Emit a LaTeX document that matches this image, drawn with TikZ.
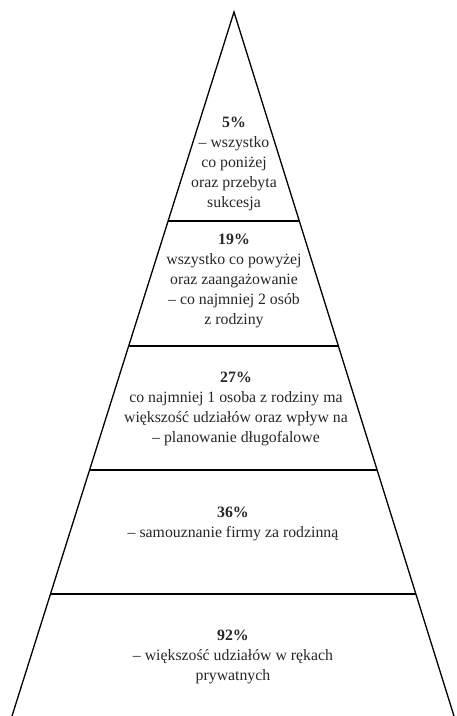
\documentclass[tikz,border=0pt]{standalone}
\usepackage{fontspec}
\setmainfont{Liberation Serif}
\usetikzlibrary{calc}

\begin{document}
\begin{tikzpicture}[
  x=1pt, y=-1pt,
  side/.style={line width=1.3pt},
  divider/.style={line width=2.2pt},
  level/.style={align=center, inner sep=0pt, text=black!85,
                font=\fontsize{15.8}{20.2}\selectfont},
]
  \useasboundingbox (0,0) rectangle (456,716);

  % Pyramid outline
  \coordinate (apex) at (234,12);
  \coordinate (baseL) at (12,716);
  \coordinate (baseR) at (454,716);
  \draw[side] (baseL) -- (apex) -- (baseR);

  % Dividers between levels
  \foreach \t in {0.297, 0.474, 0.650, 0.827} {
    \draw[divider] ($(apex)!\t!(baseL)$) -- ($(apex)!\t!(baseR)$);
  }

  % Levels, top to bottom
  \node[level] (top) at (234,164)
    {\textbf{5\%}\\-- wszystko\\co poniżej\\oraz przebyta\\sukcesja};
  \node[level] (second) at (234,281)
    {\textbf{19\%}\\wszystko co powyżej\\oraz zaangażowanie\\-- co najmniej 2 osób\\z rodziny};
  \node[level] (middle) at (236,409)
    {\textbf{27\%}\\co najmniej 1 osoba z rodziny ma\\większość udziałów oraz wpływ na\\-- planowanie długofalowe};
  \node[level] (fourth) at (233,524)
    {\textbf{36\%}\\-- samouznanie firmy za rodzinną};
  \node[level] (bottom) at (233,657)
    {\textbf{92\%}\\-- większość udziałów w rękach\\prywatnych};
\end{tikzpicture}
\end{document}
